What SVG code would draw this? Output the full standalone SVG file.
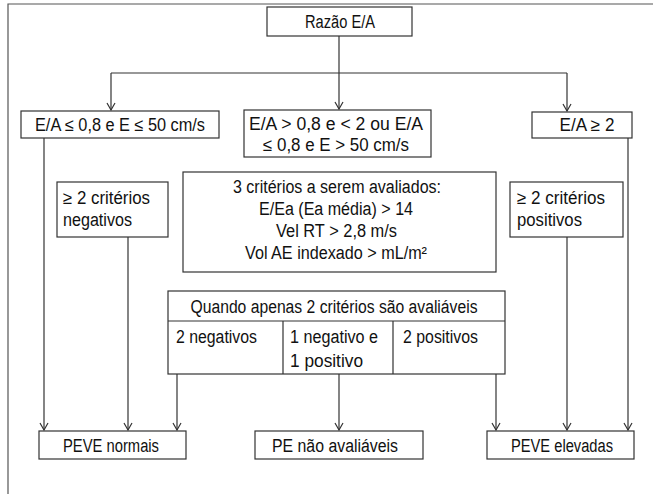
<svg xmlns="http://www.w3.org/2000/svg" width="653" height="494" viewBox="0 0 653 494">
<style>
.b{fill:#fff;stroke:#333;stroke-width:1.2}
.c{fill:none;stroke:#333;stroke-width:1.2}
.f{fill:none;stroke:#555;stroke-width:1.2}
text{font-family:"Liberation Sans",Arial,sans-serif;font-size:18px;fill:#111}
.m{text-anchor:middle}
</style>
<defs>
<marker id="a" viewBox="0 0 10 10" refX="9" refY="5" markerWidth="10" markerHeight="10" markerUnits="userSpaceOnUse" orient="auto">
<polyline points="2,1 9,5 2,9" fill="none" stroke="#333" stroke-width="1.2"/>
</marker>
</defs>
<rect width="653" height="494" fill="#fff"/>
<path class="f" d="M8,494 V4 H653"/>
<g id="connectors">
<path class="c" d="M339,36 V109" marker-end="url(#a)"/>
<path class="c" d="M111,73 H567"/>
<path class="c" d="M111,73 V110" marker-end="url(#a)"/>
<path class="c" d="M567,73 V111" marker-end="url(#a)"/>
<path class="c" d="M44,138 V430" marker-end="url(#a)"/>
<path class="c" d="M128,237 V430" marker-end="url(#a)"/>
<path class="c" d="M177,374 V430" marker-end="url(#a)"/>
<path class="c" d="M339,374 V430" marker-end="url(#a)"/>
<path class="c" d="M496,374 V430" marker-end="url(#a)"/>
<path class="c" d="M567,237 V430" marker-end="url(#a)"/>
<path class="c" d="M628,138 V430" marker-end="url(#a)"/>
</g>
<g id="razao"><rect class="b" x="267" y="7" width="145" height="29"/><text class="m" x="340" y="28" textLength="70" lengthAdjust="spacingAndGlyphs">Razão E/A</text></g>
<g id="left"><rect class="b" x="21" y="111" width="198" height="27"/><text class="m" x="120" y="131" textLength="170" lengthAdjust="spacingAndGlyphs">E/A ≤ 0,8 e E ≤ 50 cm/s</text></g>
<g id="mid"><rect class="b" x="244" y="110" width="187" height="47"/><text class="m" x="336" y="130" textLength="174" lengthAdjust="spacingAndGlyphs">E/A &gt; 0,8 e &lt; 2 ou E/A</text><text class="m" x="336" y="151" textLength="146" lengthAdjust="spacingAndGlyphs">≤ 0,8 e E &gt; 50 cm/s</text></g>
<g id="right"><rect class="b" x="532" y="112" width="100" height="26"/><text class="m" x="587" y="131" textLength="55" lengthAdjust="spacingAndGlyphs">E/A ≥ 2</text></g>
<g id="neg"><rect class="b" x="57" y="182" width="111" height="55"/><text x="63" y="204" textLength="87" lengthAdjust="spacingAndGlyphs">≥ 2 critérios</text><text x="63" y="226" textLength="69" lengthAdjust="spacingAndGlyphs">negativos</text></g>
<g id="crit"><rect class="b" x="183" y="172" width="313" height="100"/>
<text class="m" x="337" y="193" textLength="208" lengthAdjust="spacingAndGlyphs">3 critérios a serem avaliados:</text>
<text class="m" x="336" y="215" textLength="154" lengthAdjust="spacingAndGlyphs">E/Ea (Ea média) &gt; 14</text>
<text class="m" x="336.5" y="237" textLength="121" lengthAdjust="spacingAndGlyphs">Vel RT &gt; 2,8 m/s</text>
<text class="m" x="336" y="259" textLength="182" lengthAdjust="spacingAndGlyphs">Vol AE indexado &gt; mL/m²</text></g>
<g id="pos"><rect class="b" x="510" y="182" width="113" height="55"/><text x="517" y="204" textLength="88" lengthAdjust="spacingAndGlyphs">≥ 2 critérios</text><text x="517" y="226" textLength="65" lengthAdjust="spacingAndGlyphs">positivos</text></g>
<g id="table"><rect class="b" x="168" y="291" width="337" height="83"/>
<path class="c" d="M168,321 H505 M283,321 V374 M393,321 V374"/>
<text class="m" x="334" y="313" textLength="287" lengthAdjust="spacingAndGlyphs">Quando apenas 2 critérios são avaliáveis</text>
<text x="176" y="343" textLength="81" lengthAdjust="spacingAndGlyphs">2 negativos</text>
<text x="290" y="343" textLength="88" lengthAdjust="spacingAndGlyphs">1 negativo e</text>
<text x="290" y="367" textLength="73" lengthAdjust="spacingAndGlyphs">1 positivo</text>
<text x="403" y="343" textLength="75" lengthAdjust="spacingAndGlyphs">2 positivos</text></g>
<g id="normais"><rect class="b" x="39" y="431" width="147" height="28"/><text class="m" x="111" y="452" textLength="96" lengthAdjust="spacingAndGlyphs">PEVE normais</text></g>
<g id="naoav"><rect class="b" x="255" y="431" width="168" height="28"/><text class="m" x="335" y="452" textLength="126" lengthAdjust="spacingAndGlyphs">PE não avaliáveis</text></g>
<g id="elev"><rect class="b" x="487" y="431" width="147" height="28"/><text class="m" x="562" y="452" textLength="102" lengthAdjust="spacingAndGlyphs">PEVE elevadas</text></g>
</svg>
